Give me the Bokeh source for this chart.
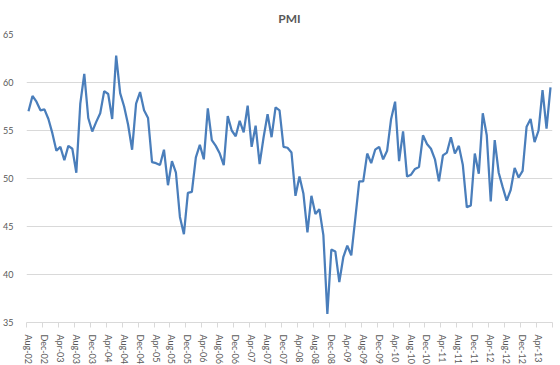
from bokeh.plotting import figure
from bokeh.models import FixedTicker, Range1d
from bokeh.embed import file_html
from bokeh.resources import INLINE

# Monthly PMI, Aug-02 .. Jul-13
pmi = [
    57.0, 58.6, 58.0, 57.1, 57.2, 56.2, 54.7, 52.9, 53.3, 51.9, 53.4, 53.1,
    50.6, 57.8, 60.9, 56.3, 54.9, 55.9, 56.8, 59.1, 58.8, 56.2, 62.8, 58.9,
    57.5, 55.6, 53.0, 57.8, 59.0, 57.1, 56.3, 51.7, 51.6, 51.4, 53.0, 49.3,
    51.8, 50.6, 46.0, 44.2, 48.5, 48.6, 52.2, 53.5, 52.0, 57.3, 54.0, 53.4,
    52.6, 51.4, 56.5, 55.0, 54.4, 56.0, 54.8, 57.6, 53.3, 55.5, 51.5, 54.3,
    56.7, 54.3, 57.4, 57.1, 53.3, 53.2, 52.7, 48.2, 50.2, 48.4, 44.4, 48.2,
    46.3, 46.8, 44.1, 35.9, 42.6, 42.4, 39.2, 41.8, 43.0, 42.0, 45.8, 49.7,
    49.7, 52.6, 51.6, 53.0, 53.3, 52.0, 52.9, 56.2, 58.0, 51.8, 54.9, 50.2,
    50.4, 51.0, 51.2, 54.5, 53.6, 53.1, 52.0, 49.7, 52.4, 52.7, 54.3, 52.6,
    53.4, 51.4, 47.0, 47.2, 52.6, 50.5, 56.8, 54.5, 47.6, 54.0, 50.6, 49.1,
    47.7, 48.8, 51.1, 50.1, 50.8, 55.4, 56.2, 53.8, 55.0, 59.2, 55.2, 59.5,
]

tick_labels = [
    "Aug-02", "Dec-02", "Apr-03", "Aug-03", "Dec-03", "Apr-04", "Aug-04",
    "Dec-04", "Apr-05", "Aug-05", "Dec-05", "Apr-06", "Aug-06", "Dec-06",
    "Apr-07", "Aug-07", "Dec-07", "Apr-08", "Aug-08", "Dec-08", "Apr-09",
    "Aug-09", "Dec-09", "Apr-10", "Aug-10", "Dec-10", "Apr-11", "Aug-11",
    "Dec-11", "Apr-12", "Aug-12", "Dec-12", "Apr-13",
]

y_ticks = [35, 40, 45, 50, 55, 60, 65]

x = list(range(len(pmi)))
label_pos = [i * 4 for i in range(len(tick_labels))]
boundaries = [p - 0.5 for p in label_pos] + [label_pos[-1] + 3.5]

FONT = "Lato"
GREY = "#595959"
LIGHT = "#D9D9D9"

p = figure(
    frame_width=526, frame_height=288,
    min_border_left=17, min_border_right=9, min_border_top=32, min_border_bottom=37,
    x_range=Range1d(-0.5, len(pmi) - 0.5), y_range=Range1d(35, 65),
    output_backend="svg", toolbar_location=None,
)

p.line(x, pmi, line_color="#4A7EBB", line_width=2.25)

p.title.text = "PMI"
p.title.align = "center"
p.title.text_font = FONT
p.title.text_font_size = "12px"
p.title.text_font_style = "bold"
p.title.text_color = GREY
p.title.standoff = 17

p.outline_line_color = None
p.xgrid.grid_line_color = None
p.ygrid.grid_line_color = LIGHT
p.ygrid.ticker = FixedTicker(ticks=y_ticks)

p.yaxis.ticker = FixedTicker(ticks=y_ticks)
p.yaxis.axis_line_color = None
p.yaxis.major_tick_line_color = None
p.yaxis.minor_tick_line_color = None
p.yaxis.major_label_standoff = 7
p.yaxis.major_label_text_font = FONT
p.yaxis.major_label_text_font_size = "9px"
p.yaxis.major_label_text_color = GREY

p.xaxis.ticker = FixedTicker(ticks=label_pos, minor_ticks=boundaries)
p.xaxis.major_label_overrides = {pos: lab for pos, lab in zip(label_pos, tick_labels)}
p.xaxis.major_label_orientation = "vertical"
p.xaxis.axis_line_color = LIGHT
p.xaxis.major_tick_line_color = None
p.xaxis.minor_tick_line_color = LIGHT
p.xaxis.minor_tick_in = 0
p.xaxis.minor_tick_out = 5
p.xaxis.major_label_standoff = 6
p.xaxis.major_label_text_font = FONT
p.xaxis.major_label_text_font_size = "9px"
p.xaxis.major_label_text_color = GREY

open("out.html", "w").write(file_html(p, INLINE))
